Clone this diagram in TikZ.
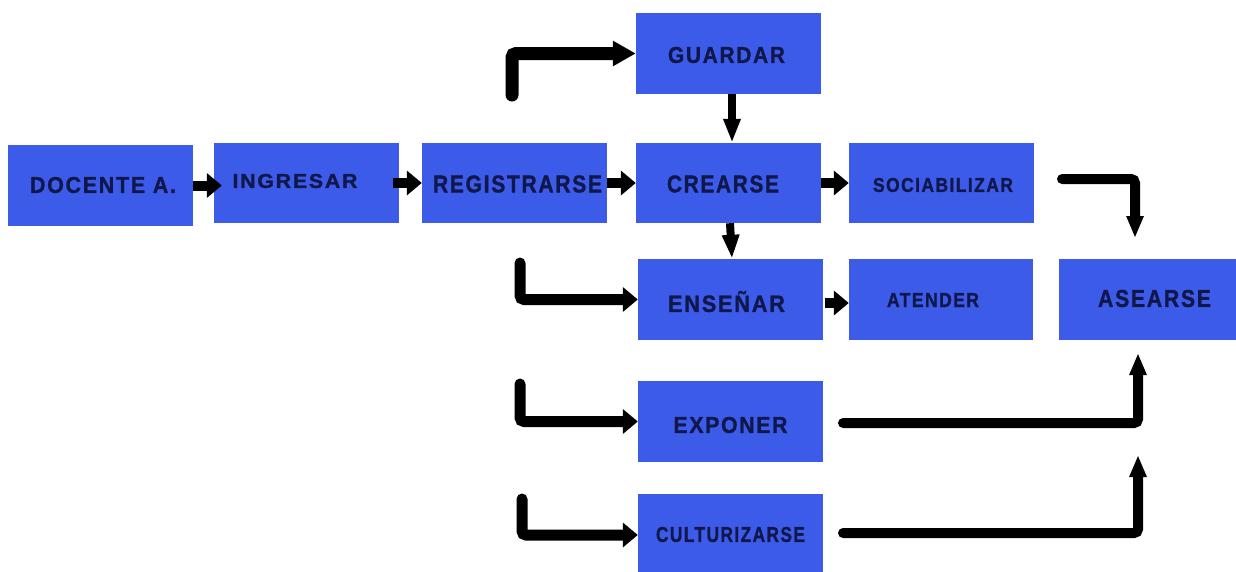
\documentclass[tikz,border=0pt]{standalone}
\usepackage{fontspec}
\usepackage{graphicx}
\usetikzlibrary{arrows.meta}
\newfontfamily\boxfont{Liberation Sans}[LetterSpace=8, FakeBold=1.2]
\definecolor{boxblue}{HTML}{3D5BE9}
\definecolor{ink}{HTML}{10174A}
\newcommand{\boxtxt}[3]{\resizebox{#1pt}{#2pt}{\boxfont\bfseries #3}}
\begin{document}
\begin{tikzpicture}[x=1pt,y=-1pt,
  box/.style={fill=boxblue, draw=none, inner sep=0pt, minimum width=185pt, minimum height=81pt},
  txt/.style={text=ink, inner sep=0pt},
  short/.style={line width=10pt, -{Triangle[length=15pt 0 0, width=24pt 0 0]}},
  vshort/.style={line width=8pt, -{Triangle[length=24pt 0 0, width=16pt 0 0]}},
  inconn/.style={line width=11pt, line cap=round, rounded corners=4pt, -{Triangle[length=15pt 0 0, width=24pt 0 0]}},
  upconn/.style={line width=10pt, line cap=round, rounded corners=4pt, -{Triangle[length=22pt 0 0, width=16pt 0 0]}}
]
\clip (0,0) rectangle (1236,571);
\fill[white] (0,0) rectangle (1236,571);

\node[box, label={[txt, xshift=2.5pt, yshift=0.5pt]center:\boxtxt{146}{16}{DOCENTE A.}}] (doc) at (100.5,185.5) {};
\node[box, minimum height=80pt, label={[txt, xshift=-11.5pt, yshift=2pt]center:\boxtxt{125}{14}{INGRESAR}}] (ing) at (306.5,183) {};
\node[box, minimum height=80pt, label={[txt, xshift=3pt, yshift=-1pt]center:\boxtxt{169}{17}{REGISTRARSE}}] (reg) at (514.5,183) {};
\node[box, label={[txt, xshift=-2pt, yshift=-1.5pt]center:\boxtxt{117}{16}{GUARDAR}}] (guard) at (728.5,53.5) {};
\node[box, minimum height=80pt, label={[txt, xshift=-5.5pt, yshift=-1pt]center:\boxtxt{112}{17}{CREARSE}}] (crear) at (728.5,183) {};
\node[box, minimum height=80pt, label={[txt, xshift=1.5pt, yshift=-2pt]center:\boxtxt{140}{14}{SOCIABILIZAR}}] (soc) at (941.5,183) {};
\node[box, minimum width=184pt, label={[txt, xshift=-8pt, yshift=-0.5pt]center:\boxtxt{92}{14}{ATENDER}}] (aten) at (941,299.5) {};
\node[box, minimum width=179pt, label={[txt, xshift=6pt, yshift=1pt]center:\boxtxt{113}{17}{ASEARSE}}] (asear) at (1148.5,299.5) {};
\node[box, label={[txt, xshift=-4pt, yshift=-2pt]center:\boxtxt{117}{21}{ENSEÑAR}}] (ens) at (730.5,299.5) {};
\node[box, label={[txt, xshift=0pt, yshift=-3.5pt]center:\boxtxt{114}{16}{EXPONER}}] (exp) at (730.5,421.5) {};
\node[box, minimum height=82pt, label={[txt, xshift=0pt, yshift=0.5pt]center:\boxtxt{149}{15}{CULTURIZARSE}}] (cul) at (730.5,535) {};

% short arrows between boxes
\draw[short] (doc.east) -- ([xshift=8pt]doc.east -| ing.west);
\draw[short] ([xshift=-6pt]ing.east) -- (ing.east -| reg.west);
\draw[short] (reg.east) -- (crear.west);
\draw[short] (crear.east) -- (soc.west);
\draw[short] ([xshift=2pt,yshift=-3.5pt]ens.east) -- ([yshift=-3.5pt]ens.east -| aten.west);
\draw[vshort] ([xshift=3.5pt]guard.south) -- ([xshift=3.5pt]guard.south |- crear.north);
\draw[vshort] ([xshift=1.5pt]crear.south) -- ([xshift=1.5pt]ens.north);

% long connectors
\coordinate (g0) at (512,95);
\draw[inconn, line width=13pt, -{Triangle[length=23pt 0 0, width=24pt 0 0]}] (g0) |- (guard.west);
\coordinate (s0) at (1062,179);
\coordinate (s1) at (1135,238);
\draw[upconn] (s0) -| (s1);
\coordinate (e0) at (520,263);
\draw[inconn] (e0) |- (ens.west);
\coordinate (x0) at (520,384);
\draw[inconn] (x0) |- (exp.west);
\coordinate (c0) at (522,499);
\draw[inconn] (c0) |- (cul.west);
\coordinate (a1) at (843,423);
\coordinate (a2) at (1138,353);
\draw[upconn] (a1) -| (a2);
\coordinate (b1) at (843,533);
\coordinate (b2) at (1138,455);
\draw[upconn] (b1) -| (b2);
\end{tikzpicture}
\end{document}
